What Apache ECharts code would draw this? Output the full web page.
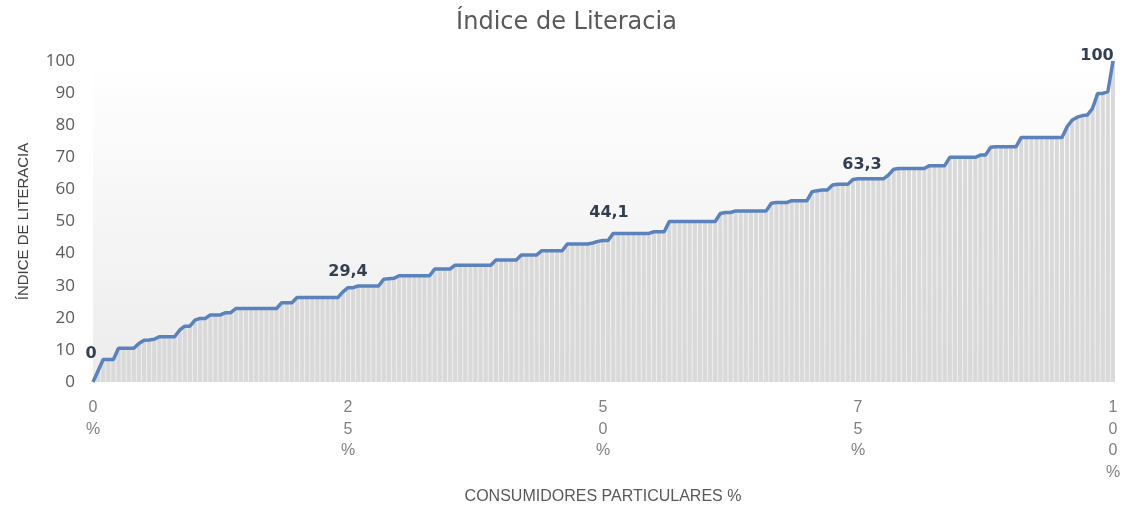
<!DOCTYPE html>
<html>
<head>
<meta charset="utf-8">
<script src="https://cdn.jsdelivr.net/npm/echarts@6/dist/echarts.min.js"></script>
<style>
  html, body { margin: 0; padding: 0; background: #ffffff; }
  #chart { width: 1133px; height: 506px; }
</style>
</head>
<body>
<div id="chart"></div>
<script>
// Literacy index of each consumer, sorted ascending (201 ranked consumers)
const literacyIndex = [
  0, 3.5, 7.0, 7.0, 7.0, 10.5, 10.5, 10.5, 10.5, 12.0,
  13.0, 13.1, 13.3, 14.1, 14.1, 14.1, 14.1, 16.2, 17.4, 17.4,
  19.3, 19.8, 19.8, 20.9, 20.9, 20.9, 21.6, 21.6, 22.9, 22.9,
  22.9, 22.9, 22.9, 22.9, 22.9, 22.9, 22.9, 24.7, 24.7, 24.7,
  26.3, 26.3, 26.3, 26.3, 26.3, 26.3, 26.3, 26.3, 26.3, 28.1,
  29.4, 29.4, 29.9, 29.9, 29.9, 29.9, 29.9, 32.0, 32.2, 32.3,
  33.1, 33.1, 33.1, 33.1, 33.1, 33.1, 33.1, 35.2, 35.2, 35.2,
  35.2, 36.4, 36.4, 36.4, 36.4, 36.4, 36.4, 36.4, 36.4, 38.0,
  38.0, 38.0, 38.0, 38.0, 39.6, 39.6, 39.6, 39.6, 40.9, 40.9,
  40.9, 40.9, 40.9, 43.0, 43.0, 43.0, 43.0, 43.0, 43.3, 43.8,
  44.1, 44.1, 46.3, 46.3, 46.3, 46.3, 46.3, 46.3, 46.3, 46.3,
  46.8, 46.8, 46.8, 50.0, 50.0, 50.0, 50.0, 50.0, 50.0, 50.0,
  50.0, 50.0, 50.0, 52.5, 52.8, 52.8, 53.3, 53.3, 53.3, 53.3,
  53.3, 53.3, 53.3, 55.7, 55.9, 55.9, 55.9, 56.5, 56.5, 56.5,
  56.5, 59.3, 59.6, 59.8, 59.8, 61.4, 61.6, 61.6, 61.6, 63.1,
  63.3, 63.3, 63.3, 63.3, 63.3, 63.3, 64.5, 66.3, 66.5, 66.5,
  66.5, 66.5, 66.5, 66.5, 67.4, 67.4, 67.4, 67.4, 70.0, 70.0,
  70.0, 70.0, 70.0, 70.0, 70.7, 70.7, 73.1, 73.3, 73.3, 73.3,
  73.3, 73.3, 76.2, 76.2, 76.2, 76.2, 76.2, 76.2, 76.2, 76.2,
  76.2, 79.5, 81.6, 82.5, 83.0, 83.2, 85.3, 89.9, 89.9, 90.5,
  100
];

// Percentile tick labels along the consumer axis
const xTickLabels = ['0%', '25%', '50%', '75%', '100%'];
const xTickStep = 50;

// Consumers whose value is printed on the curve (quartile points)
const labelledRanks = [0, 50, 100, 150, 200];
const labelOffsets = [[-2, -15], [0, -3], [6, -15], [4, -1], [-16, 8]];

const ranks = literacyIndex.map((_, i) => i);

const lineData = literacyIndex.map((v, i) => {
  const k = labelledRanks.indexOf(i);
  if (k < 0) return v;
  return {
    value: v,
    label: {
      show: true,
      position: 'top',
      offset: labelOffsets[k],
      formatter: (p) => String(p.value).replace('.', ','),
      fontFamily: 'DejaVu Sans',
      fontWeight: 'bold',
      fontSize: 16,
      color: '#333f50'
    }
  };
});

const chart = echarts.init(document.getElementById('chart'), null, { renderer: 'canvas' });

chart.setOption({
  backgroundColor: '#ffffff',
  animation: false,
  title: {
    text: 'Índice de Literacia',
    left: 'center',
    top: 6,
    textStyle: {
      fontFamily: 'DejaVu Sans',
      fontWeight: 'normal',
      fontSize: 24,
      color: '#595959'
    }
  },
  grid: {
    left: 93,
    right: 20,
    top: 61,
    bottom: 124,
    containLabel: false,
    outerBoundsMode: 'none',
    show: true,
    borderWidth: 0,
    backgroundColor: new echarts.graphic.LinearGradient(0, 0, 0, 1, [
      { offset: 0, color: '#ffffff' },
      { offset: 1, color: '#ececec' }
    ])
  },
  xAxis: {
    type: 'category',
    data: ranks,
    boundaryGap: false,
    name: 'CONSUMIDORES PARTICULARES %',
    nameLocation: 'middle',
    nameGap: 107,
    nameTextStyle: {
      fontFamily: 'Liberation Sans',
      fontSize: 16,
      color: '#595959'
    },
    axisLine: { show: false },
    axisTick: { show: false },
    splitLine: { show: false },
    axisLabel: {
      interval: (index) => index % xTickStep === 0,
      formatter: (value, index) => xTickLabels[index / xTickStep].split('').join('\n'),
      margin: 15,
      fontFamily: 'Liberation Sans',
      fontSize: 16,
      lineHeight: 21.5,
      color: '#7f7f7f',
      verticalAlign: 'top'
    }
  },
  yAxis: {
    type: 'value',
    min: 0,
    max: 100,
    interval: 10,
    name: 'ÍNDICE DE LITERACIA',
    nameLocation: 'middle',
    nameRotate: 90,
    nameGap: 62,
    nameTextStyle: {
      fontFamily: 'Liberation Sans',
      fontSize: 15,
      color: '#404040'
    },
    axisLine: { show: false },
    axisTick: { show: false },
    splitLine: { show: false },
    axisLabel: {
      margin: 18,
      fontFamily: 'Open Sans',
      fontSize: 17,
      color: '#595959'
    }
  },
  series: [
    {
      name: 'bars',
      type: 'bar',
      data: literacyIndex,
      barWidth: 4,
      itemStyle: { color: '#d9d9d9' },
      silent: true,
      z: 1
    },
    {
      name: 'Índice de Literacia',
      type: 'line',
      data: lineData,
      symbol: 'circle',
      symbolSize: 0.1,
      showSymbol: true,
      showAllSymbol: true,
      lineStyle: { color: '#5a82bd', width: 3.5 },
      itemStyle: { color: '#5a82bd' },
      label: { show: false },
      z: 3
    }
  ]
});
</script>
</body>
</html>
